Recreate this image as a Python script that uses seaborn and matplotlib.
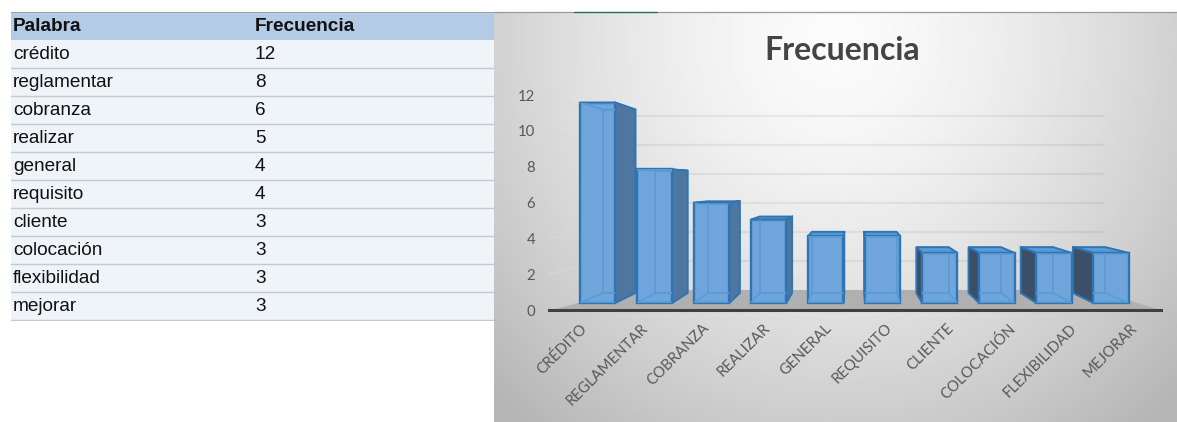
import numpy as np
import pandas as pd
import matplotlib
matplotlib.use("Agg")
import matplotlib.pyplot as plt
from matplotlib.patches import Polygon
import seaborn as sns

palabras = ["crédito", "reglamentar", "cobranza", "realizar", "general",
            "requisito", "cliente", "colocación", "flexibilidad", "mejorar"]
frecuencias = [12, 8, 6, 5, 4, 4, 3, 3, 3, 3]
etiquetas = [p.upper() for p in palabras]
ticks_y = [0, 2, 4, 6, 8, 10, 12]

W, H = 1177, 422
sns.set_theme(style="white")
plt.rcParams["font.family"] = ["Lato", "DejaVu Sans"]
fig = plt.figure(figsize=(W / 100, H / 100), dpi=100)
fig.patch.set_facecolor("white")


def axes_px(x0, y0, x1, y1, **kw):
    return fig.add_axes([x0 / W, 1 - y1 / H, (x1 - x0) / W, (y1 - y0) / H], **kw)


# ---------- table ----------
tab = axes_px(11, 12, 494, 321)
tab.set_xlim(11, 494)
tab.set_ylim(len(palabras) + 0.036, -1)
tab.axis("off")
tab.axhspan(-1, 0, color="#b3cbe4", lw=0)
tab.axhspan(0, len(palabras) + 1, color="#eff4f9", lw=0)
tab.axhline(-1, color="#9a9a9a", lw=1.2)
sans = ["Liberation Sans"]
FS = 13.7
TY = 0.53
tab.text(13, TY - 1, "Palabra", fontsize=FS, fontweight="bold", va="center", color="#111111", family=sans)
tab.text(255, TY - 1, "Frecuencia", fontsize=FS, fontweight="bold", va="center", color="#111111", family=sans)
for i, (p, f) in enumerate(zip(palabras, frecuencias)):
    tab.text(13, i + TY, p, fontsize=FS, va="center", color="#111111", family=sans)
    tab.text(255, i + TY, str(f), fontsize=FS, va="center", color="#111111", family=sans)
    tab.axhline(i + 1, color="#c3c9d0", lw=1)

# ---------- chart background ----------
bg = axes_px(494, 12, 1177, 422)
bx, by = np.meshgrid(np.linspace(494, 1177, 340), np.linspace(12, 422, 205))
r = np.hypot((bx - 835) / 440, (by - 40) / 460)
shade = np.clip(0.985 - 0.24 * r ** 1.5, 0.71, 0.985)
bg.imshow(shade, cmap="gray", vmin=0, vmax=1, aspect="auto", interpolation="bilinear")
bg.axis("off")

# ---------- 3D-looking bars ----------
SLOT = 57.05
X0 = 597.5
Y0 = 303.0
UNIT = 16.7
ax = axes_px(494, 12, 1177, 422)
ax.patch.set_alpha(0)
df = pd.DataFrame({"palabra": etiquetas, "frecuencia": frecuencias})
BW = 0.62
sns.barplot(data=df, x="palabra", y="frecuencia", ax=ax, color="#6fa5da", saturation=1,
            width=BW, linewidth=1.7, edgecolor="#2e75b6", zorder=5)
fronts = list(ax.patches)
ax.set_xlim((494 - X0) / SLOT, (1177 - X0) / SLOT)
ax.set_ylim((Y0 - 422) / UNIT, (Y0 - 12) / UNIT)
ax.axis("off")

VX, VY, K = 4.5, (Y0 - 185) / UNIT, 0.915


def back(x, y, k=K):
    return VX + k * (x - VX), VY + k * (y - VY)


# floor
yax = (Y0 - 310) / UNIT
yfb = (Y0 - 290) / UNIT
xl, xr = (552 - X0) / SLOT, (1160 - X0) / SLOT
ax.add_patch(Polygon([(xl, yax), (xr, yax), ((1096 - X0) / SLOT, yfb), ((625 - X0) / SLOT, yfb)],
                     closed=True, fc="#b0b0b0", ec="none", zorder=3))

# walls' gridlines
for v in ticks_y[1:]:
    y_left = (Y0 - (310 - 17.92 * v)) / UNIT
    y_back = (Y0 - (290 - 14.5 * v)) / UNIT
    xw, xe = (604 - X0) / SLOT, (1103 - X0) / SLOT
    ax.plot([(549 - X0) / SLOT, xw], [y_left, y_back], color=(0.85, 0.85, 0.85, 0.7), lw=1.1, zorder=2)
    ax.plot([xw, xe], [y_back, y_back], color=(0, 0, 0, 0.06), lw=1.6, zorder=2)

edge = "#2e75b6"
inner = "#5b9bd5"
for i, v in enumerate(frecuencias):
    l, r_ = i - BW / 2, i + BW / 2
    bl0, bl1 = back(l, 0), back(l, v)
    br0, br1 = back(r_, 0), back(r_, v)
    # outer faces, behind the opaque front
    ax.add_patch(Polygon([(l, v), (r_, v), br1, bl1], closed=True, fc="#5b9bd5", ec=edge, lw=1.4, zorder=4))
    if br0[0] > r_ + 0.01:
        ax.add_patch(Polygon([(r_, 0), br0, br1, (r_, v)], closed=True, fc="#4f769f", ec=edge, lw=1.4, zorder=4))
    if bl0[0] < l - 0.01:
        ax.add_patch(Polygon([(l, 0), bl0, bl1, (l, v)], closed=True, fc="#3b5068", ec=edge, lw=1.4, zorder=4))
    # hidden edges showing through the front face
    for pts in ([bl0, br0, br1, bl1], [(l, v), (r_, v), br1, bl1], [(l, 0), (r_, 0), br0, bl0]):
        p = Polygon(pts, closed=True, fc="none", ec=inner, lw=1.3, zorder=6)
        ax.add_patch(p)
        p.set_clip_path(fronts[i])

# ---------- axis with labels ----------
lab = axes_px(549, 95, 1161, 310)
lab.patch.set_alpha(0)
lab.set_xlim(-0.5, 9.5)
lab.set_ylim(0, 12)
lab.set_xticks(range(len(etiquetas)))
lab.set_xticklabels(etiquetas, rotation=45, ha="right", rotation_mode="anchor",
                    fontsize=10.7, color="#595959")
lab.set_yticks(ticks_y)
lab.set_yticklabels([str(t) for t in ticks_y], fontsize=10.7, color="#595959")
lab.tick_params(axis="both", length=0)
lab.tick_params(axis="x", pad=8)
lab.tick_params(axis="y", pad=10)
for s in ("top", "left", "right"):
    lab.spines[s].set_visible(False)
lab.spines["bottom"].set_color("#404040")
lab.spines["bottom"].set_linewidth(2.2)

fig.text(842 / W, 1 - 50 / H, "Frecuencia", fontsize=23, fontweight="bold",
         color="#444444", ha="center", va="center")

# sheet edge above the chart
fig.add_artist(plt.Line2D([494 / W, 1], [1 - 11.5 / H] * 2, color="#9a9a9a", lw=0.9))
fig.add_artist(plt.Line2D([574 / W, 657 / W], [1 - 11.5 / H] * 2, color="#217346", lw=0.9))

fig.savefig("out.png", dpi=100)
